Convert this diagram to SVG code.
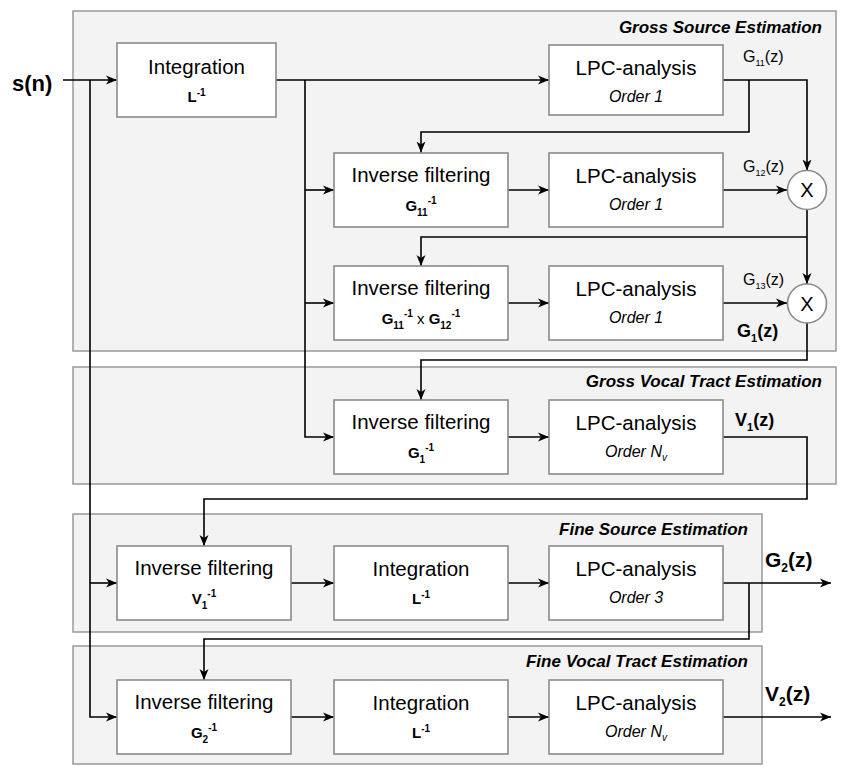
<svg xmlns="http://www.w3.org/2000/svg" width="849" height="775" viewBox="0 0 849 775">
<defs>
<marker id="arr" markerWidth="12" markerHeight="10" refX="11" refY="5" orient="auto" markerUnits="userSpaceOnUse">
<path d="M0,0.5 L11,5 L0,9.5 L3,5 Z" fill="#000"/>
</marker>
<style>
.grp{fill:#f3f3f3;stroke:#999;stroke-width:1.5}
.box{fill:#fff;stroke:#8a8a8a;stroke-width:1.6}
.circ{fill:#fff;stroke:#8a8a8a;stroke-width:1.6}
.t{font-family:"Liberation Sans",Arial,sans-serif;fill:#000}
.main{font-size:20.5px;text-anchor:middle}
.ord{font-size:16px;font-style:italic;text-anchor:middle}
.sym{font-size:15px;font-weight:bold;text-anchor:middle}
.sub{font-size:10px}
.title{font-size:17px;font-weight:bold;font-style:italic;text-anchor:end}
.lab{font-size:16px}
.blab{font-weight:bold}
.c{fill:none;stroke:#000;stroke-width:1.6}
.ca{fill:none;stroke:#000;stroke-width:1.6;marker-end:url(#arr)}
</style>
</defs>
<rect width="849" height="775" fill="#fff"/>

<g id="groups">
<rect class="grp" x="73" y="11" width="763" height="340"/>
<rect class="grp" x="73" y="367" width="763" height="117"/>
<rect class="grp" x="73" y="514" width="689" height="118"/>
<rect class="grp" x="73" y="646" width="689" height="118"/>
<text class="t title" x="822" y="33">Gross Source Estimation</text>
<text class="t title" x="822" y="387">Gross Vocal Tract Estimation</text>
<text class="t title" x="748" y="535">Fine Source Estimation</text>
<text class="t title" x="748" y="667">Fine Vocal Tract Estimation</text>
</g>

<g id="connectors">
<path class="ca" d="M63,80 H117"/>
<path class="ca" d="M90,80 V717 H117"/>
<path class="ca" d="M90,583 H117"/>
<path class="ca" d="M276,80 H549"/>
<path class="ca" d="M305,80 V437 H334"/>
<path class="ca" d="M305,190 H334"/>
<path class="ca" d="M305,303 H334"/>
<path class="ca" d="M723,80 H807 V170.5"/>
<path class="ca" d="M749,80 V132 H421 V152.5"/>
<path class="ca" d="M508,190 H549"/>
<path class="ca" d="M723,190 H787"/>
<path class="ca" d="M807,209.5 V284"/>
<path class="ca" d="M807,237 H421 V266"/>
<path class="ca" d="M508,303 H549"/>
<path class="ca" d="M723,303 H787"/>
<path class="ca" d="M807,323 V360 H421 V400"/>
<path class="ca" d="M508,437 H549"/>
<path class="ca" d="M723,437 H807 V499 H204 V546"/>
<path class="ca" d="M291,583 H334"/>
<path class="ca" d="M508,583 H549"/>
<path class="ca" d="M723,583 H831"/>
<path class="ca" d="M749,583 V639 H204 V680"/>
<path class="ca" d="M291,717 H334"/>
<path class="ca" d="M508,717 H549"/>
<path class="ca" d="M723,717 H831"/>
</g>

<g id="input">
<text class="t blab" x="12" y="91" font-size="22">s(n)</text>
</g>

<g id="integration1">
<rect class="box" x="117" y="43" width="159" height="74"/>
<text class="t main" x="196.5" y="73.5">Integration</text>
<text class="t sym" x="196.5" y="102">L<tspan class="sub" dy="-6">-1</tspan></text>
</g>

<g id="lpc1">
<rect class="box" x="549" y="45" width="174" height="70"/>
<text class="t main" x="636" y="74.5">LPC-analysis</text>
<text class="t ord" x="636" y="101.5">Order 1</text>
</g>

<g id="invfilt1">
<rect class="box" x="334" y="153" width="174" height="74"/>
<text class="t main" x="421" y="182">Inverse filtering</text>
<text class="t sym" x="421" y="211">G<tspan class="sub" dy="5">11</tspan><tspan class="sub" dy="-12">-1</tspan></text>
</g>

<g id="lpc2">
<rect class="box" x="549" y="153" width="174" height="74"/>
<text class="t main" x="636" y="182.5">LPC-analysis</text>
<text class="t ord" x="636" y="210">Order 1</text>
</g>

<g id="mult1">
<circle class="circ" cx="807" cy="190" r="19.5"/>
<text class="t" x="807" y="197" font-size="20" text-anchor="middle">X</text>
</g>

<g id="invfilt2">
<rect class="box" x="334" y="266" width="174" height="74"/>
<text class="t main" x="421" y="295">Inverse filtering</text>
<text class="t sym" x="421" y="324">G<tspan class="sub" dy="5">11</tspan><tspan class="sub" dy="-12">-1</tspan><tspan dy="7" font-weight="normal"> x </tspan>G<tspan class="sub" dy="5">12</tspan><tspan class="sub" dy="-12">-1</tspan></text>
</g>

<g id="lpc3">
<rect class="box" x="549" y="266" width="174" height="74"/>
<text class="t main" x="636" y="295.5">LPC-analysis</text>
<text class="t ord" x="636" y="323">Order 1</text>
</g>

<g id="mult2">
<circle class="circ" cx="807" cy="303.5" r="19.5"/>
<text class="t" x="807" y="310.5" font-size="20" text-anchor="middle">X</text>
</g>

<g id="invfilt3">
<rect class="box" x="334" y="400" width="174" height="74"/>
<text class="t main" x="421" y="429">Inverse filtering</text>
<text class="t sym" x="421" y="458">G<tspan class="sub" dy="5">1</tspan><tspan class="sub" dy="-12">-1</tspan></text>
</g>

<g id="lpc4">
<rect class="box" x="549" y="400" width="174" height="74"/>
<text class="t main" x="636" y="429.5">LPC-analysis</text>
<text class="t ord" x="636" y="457">Order N<tspan font-size="10" dy="4">v</tspan></text>
</g>

<g id="invfilt4">
<rect class="box" x="117" y="546" width="174" height="74"/>
<text class="t main" x="204" y="575">Inverse filtering</text>
<text class="t sym" x="204" y="604">V<tspan class="sub" dy="5">1</tspan><tspan class="sub" dy="-12">-1</tspan></text>
</g>

<g id="integration2">
<rect class="box" x="334" y="546" width="174" height="74"/>
<text class="t main" x="421" y="575.5">Integration</text>
<text class="t sym" x="421" y="604">L<tspan class="sub" dy="-6">-1</tspan></text>
</g>

<g id="lpc5">
<rect class="box" x="549" y="546" width="174" height="74"/>
<text class="t main" x="636" y="575.5">LPC-analysis</text>
<text class="t ord" x="636" y="603">Order 3</text>
</g>

<g id="invfilt5">
<rect class="box" x="117" y="680" width="174" height="74"/>
<text class="t main" x="204" y="709">Inverse filtering</text>
<text class="t sym" x="204" y="738">G<tspan class="sub" dy="5">2</tspan><tspan class="sub" dy="-12">-1</tspan></text>
</g>

<g id="integration3">
<rect class="box" x="334" y="680" width="174" height="74"/>
<text class="t main" x="421" y="709.5">Integration</text>
<text class="t sym" x="421" y="738">L<tspan class="sub" dy="-6">-1</tspan></text>
</g>

<g id="lpc6">
<rect class="box" x="549" y="680" width="174" height="74"/>
<text class="t main" x="636" y="709.5">LPC-analysis</text>
<text class="t ord" x="636" y="737">Order N<tspan font-size="10" dy="4">v</tspan></text>
</g>

<g id="labels">
<text class="t lab" x="743" y="62">G<tspan font-size="9" dy="4">11</tspan><tspan dy="-4">(z)</tspan></text>
<text class="t lab" x="743" y="172">G<tspan font-size="9" dy="4">12</tspan><tspan dy="-4">(z)</tspan></text>
<text class="t lab" x="743" y="285">G<tspan font-size="9" dy="4">13</tspan><tspan dy="-4">(z)</tspan></text>
<text class="t blab" x="737" y="337" font-size="18">G<tspan font-size="11" dy="5">1</tspan><tspan dy="-5">(z)</tspan></text>
<text class="t blab" x="735" y="426" font-size="18">V<tspan font-size="11" dy="5">1</tspan><tspan dy="-5">(z)</tspan></text>
<text class="t blab" x="765" y="567" font-size="21">G<tspan font-size="12" dy="5">2</tspan><tspan dy="-5">(z)</tspan></text>
<text class="t blab" x="765" y="701" font-size="21">V<tspan font-size="12" dy="5">2</tspan><tspan dy="-5">(z)</tspan></text>
</g>
</svg>
